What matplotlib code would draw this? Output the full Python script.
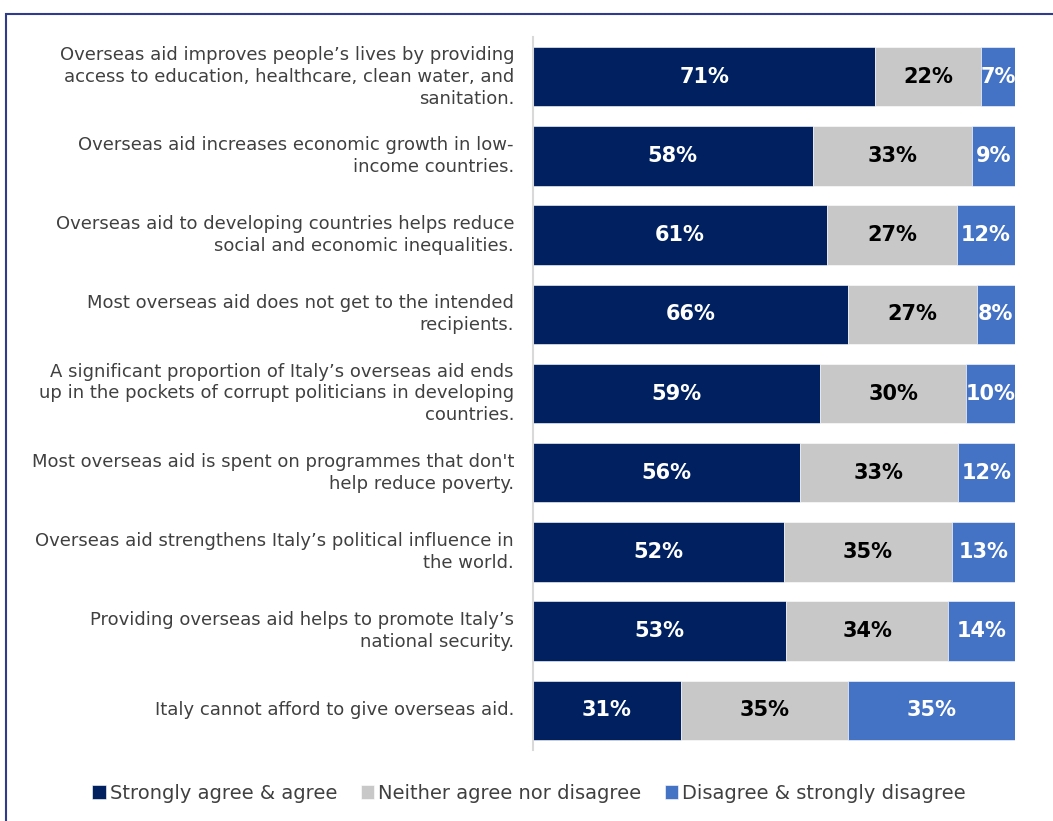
import matplotlib
matplotlib.use("Agg")
import matplotlib.pyplot as plt
import numpy as np
from matplotlib.patches import Rectangle

plt.rcParams["font.family"] = ["DejaVu Sans"]

STATEMENTS = [
    "Overseas aid improves people\u2019s lives by providing\naccess to education, healthcare, clean water, and\nsanitation.",
    "Overseas aid increases economic growth in low-\nincome countries.",
    "Overseas aid to developing countries helps reduce\nsocial and economic inequalities.",
    "Most overseas aid does not get to the intended\nrecipients.",
    "A significant proportion of Italy\u2019s overseas aid ends\nup in the pockets of corrupt politicians in developing\ncountries.",
    "Most overseas aid is spent on programmes that don't\nhelp reduce poverty.",
    "Overseas aid strengthens Italy\u2019s political influence in\nthe world.",
    "Providing overseas aid helps to promote Italy\u2019s\nnational security.",
    "Italy cannot afford to give overseas aid.",
]
AGREE = [71, 58, 61, 66, 59, 56, 52, 53, 31]
NEITHER = [22, 33, 27, 27, 30, 33, 35, 34, 35]
DISAGREE = [7, 9, 12, 8, 10, 12, 13, 14, 35]

SERIES_NAMES = ["Strongly agree & agree", "Neither agree nor disagree", "Disagree & strongly disagree"]
COLORS = ["#002060", "#C8C8C8", "#4472C4"]
TEXT_COLORS = ["white", "black", "white"]
LABEL_GREY = "#404040"

fig = plt.figure(figsize=(10.53, 8.21), dpi=100)
ax = fig.add_axes([533 / 1053, 1 - 750 / 821, 482 / 1053, 713 / 821])

vals = np.array([AGREE, NEITHER, DISAGREE], dtype=float)
# rounded shares don't always add to 100, so scale each row to fill the bar
shares = vals / vals.sum(axis=0) * 100
y = np.arange(len(STATEMENTS))
left = np.zeros(len(STATEMENTS))
for k in range(3):
    ax.barh(y, shares[k], left=left, height=0.75, color=COLORS[k],
            edgecolor="white", linewidth=0.4, label=SERIES_NAMES[k])
    for i in range(len(STATEMENTS)):
        ax.text(left[i] + shares[k][i] / 2, y[i], f"{int(vals[k][i])}%",
                ha="center", va="center", color=TEXT_COLORS[k],
                fontsize=15, fontweight="bold")
    left += shares[k]

ax.set_xlim(0, 100)
ax.set_ylim(len(STATEMENTS) - 0.5, -0.5)
ax.set_xticks([])
ax.set_yticks([])
for s in ["top", "right", "bottom"]:
    ax.spines[s].set_visible(False)
ax.spines["left"].set_color("#D9D9D9")
ax.spines["left"].set_linewidth(1.5)

for i, lab in enumerate(STATEMENTS):
    ax.annotate(lab, xy=(0, y[i]), xycoords=("axes fraction", "data"),
                xytext=(-19, 0), textcoords="offset pixels",
                ha="right", va="center", color=LABEL_GREY, fontsize=13,
                linespacing=1.28)

leg = fig.legend(loc="center", bbox_to_anchor=(529 / 1053, 1 - 793 / 821),
                 ncol=3, frameon=False, fontsize=14, handlelength=0.7,
                 handleheight=0.7, handletextpad=0.2, columnspacing=1.2)
for t in leg.get_texts():
    t.set_color(LABEL_GREY)

# frame around the figure
fig.patches.append(Rectangle((6 / 1053, -0.1), 1.2, 1 - 14 / 821 + 0.1,
                             transform=fig.transFigure, fill=False,
                             edgecolor="#2F3B8C", linewidth=1.5))

fig.savefig("out.png", dpi=100)
